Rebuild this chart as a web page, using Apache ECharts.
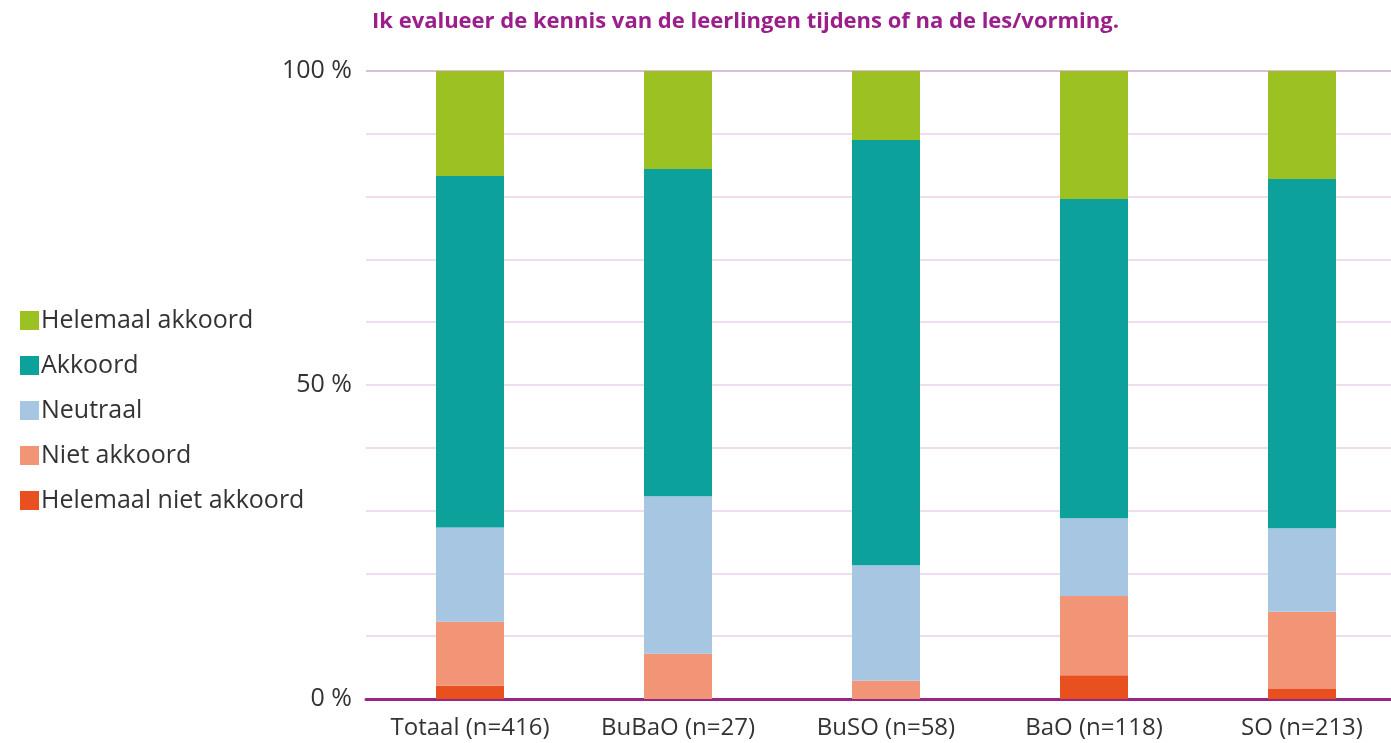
<!DOCTYPE html>
<html>
<head>
<meta charset="utf-8">
<script src="https://cdn.jsdelivr.net/npm/echarts@6/dist/echarts.min.js"></script>
<style>
  html, body { margin: 0; padding: 0; background: #fff; overflow: hidden; }
  /* iets breder dan het venster, zodat de laatste categorie goed uitkomt */
  #chart { width: 1410px; height: 743px; }
</style>
</head>
<body>
<div id="chart"></div>
<script>
const categories = ['Totaal (n=416)', 'BuBaO (n=27)', 'BuSO (n=58)', 'BaO (n=118)', 'SO (n=213)']
const helemaalNietAkkoord = [2.1, 0, 0, 3.8, 1.6]
const nietAkkoord = [10.2, 7.2, 2.9, 12.6, 12.3]
const neutraal = [15.0, 25.1, 18.4, 12.4, 13.3]
const akkoord = [56.0, 52.1, 67.7, 50.8, 55.6]
const helemaalAkkoord = [16.7, 15.6, 11.0, 20.4, 17.2]
const yTickLabels = [0, 50, 100]

const fontName = '"Open Sans", sans-serif'
const textColor = '#333333'

const makeSeries = (name, data, color) => {
  return {
    name: name,
    type: 'bar',
    stack: 'total',
    barWidth: 68,
    itemStyle: { color: color },
    data: data
  }
}

const chart = echarts.init(document.getElementById('chart'))
chart.setOption({
  animation: false,
  title: {
    text: 'Ik evalueer de kennis van de leerlingen tijdens of na de les/vorming.',
    left: 367,
    top: 6,
    textStyle: {
      fontFamily: fontName,
      fontSize: 22,
      fontWeight: 'bold',
      color: '#9b1f8a'
    }
  },
  legend: {
    orient: 'vertical',
    left: 15,
    top: 303,
    itemWidth: 19,
    itemHeight: 19,
    itemGap: 20,
    icon: 'rect',
    data: ['Helemaal akkoord', 'Akkoord', 'Neutraal', 'Niet akkoord', 'Helemaal niet akkoord'],
    textStyle: {
      fontFamily: fontName,
      fontSize: 25,
      lineHeight: 25,
      color: textColor,
      padding: [0, 0, 0, -3]
    }
  },
  grid: {
    left: 366,
    right: 4,
    top: 71,
    bottom: 44
  },
  xAxis: {
    type: 'category',
    data: categories,
    axisLine: { lineStyle: { color: '#982483', width: 3 } },
    axisTick: { show: false },
    axisLabel: {
      interval: 0,
      fontFamily: fontName,
      fontSize: 24,
      color: textColor,
      margin: 17
    }
  },
  yAxis: {
    type: 'value',
    min: 0,
    max: 100,
    interval: 10,
    axisLine: { show: false },
    axisTick: { show: false },
    splitLine: {
      lineStyle: {
        width: 2,
        color: ['#f0dcee', '#f0dcee', '#f0dcee', '#f0dcee', '#f0dcee', '#f0dcee',
          '#f0dcee', '#f0dcee', '#f0dcee', '#f0dcee', '#ddbcd9']
      }
    },
    axisLabel: {
      fontFamily: fontName,
      fontSize: 25,
      color: textColor,
      margin: 14,
      padding: [5, 0, 0, 0],
      formatter: function(value) {
        return yTickLabels.indexOf(value) >= 0 ? value + ' %' : ''
      }
    }
  },
  series: [
    makeSeries('Helemaal niet akkoord', helemaalNietAkkoord, '#e8501f'),
    makeSeries('Niet akkoord', nietAkkoord, '#f29577'),
    makeSeries('Neutraal', neutraal, '#a6c6e2'),
    makeSeries('Akkoord', akkoord, '#0da19c'),
    makeSeries('Helemaal akkoord', helemaalAkkoord, '#9bc222')
  ]
})
</script>
</body>
</html>
